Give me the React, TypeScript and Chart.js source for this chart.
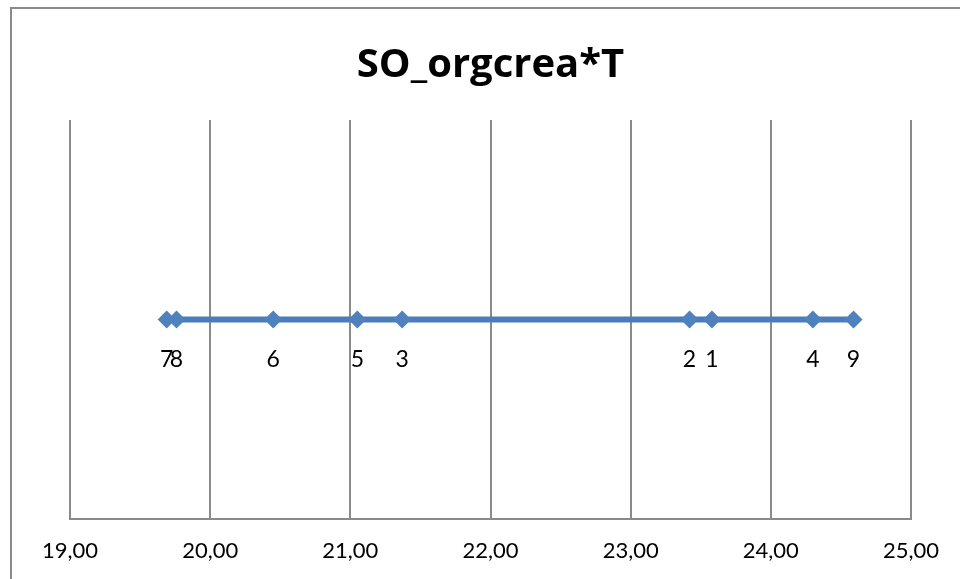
import React, { useEffect, useRef } from "react";
import { Chart, registerables } from "chart.js";

Chart.register(...registerables);

const chartTitle = "SO_orgcrea*T";
const pointLabels = ["1", "2", "3", "4", "5", "6", "7", "8", "9"];
const xValues = [23.58, 23.42, 21.37, 24.3, 21.05, 20.45, 19.69, 19.76, 24.59];
const yValues = [1, 1, 1, 1, 1, 1, 1, 1, 1];
const xMin = 19;
const xMax = 25;

const FONT = "Lato, 'Open Sans', sans-serif";
const TITLE_FONT = "'Open Sans', Lato, sans-serif";

const framePlugin = {
  id: "frame",
  beforeDraw(chart: any) {
    const ctx = chart.ctx;
    ctx.save();
    ctx.fillStyle = "#ffffff";
    ctx.fillRect(0, 0, chart.width, chart.height);
    ctx.strokeStyle = "#8a8a8a";
    ctx.lineWidth = 2;
    ctx.strokeRect(11, 8, chart.width + 20, chart.height + 20);
    ctx.restore();
  },
};

const labelPlugin = {
  id: "pointLabelText",
  afterDatasetsDraw(chart: any) {
    const ctx = chart.ctx;
    const meta = chart.getDatasetMeta(0);
    ctx.save();
    ctx.font = `23px ${FONT}`;
    ctx.fillStyle = "#000000";
    ctx.textAlign = "center";
    ctx.textBaseline = "middle";
    meta.data.forEach((el: any, i: number) => {
      ctx.fillText(pointLabels[i], el.x, el.y + 40);
    });
    ctx.restore();
  },
};

export default function App() {
  const ref = useRef<HTMLCanvasElement>(null);
  useEffect(() => {
    if (!ref.current) return;
    const data = xValues.map((x, i) => ({ x, y: yValues[i] }));
    const chart = new Chart(ref.current, {
      type: "line",
      data: {
        datasets: [
          {
            data,
            borderColor: "#4a7ebb",
            backgroundColor: "#4f81bd",
            borderWidth: 6,
            pointStyle: "rectRot",
            pointRadius: 9,
            pointBorderWidth: 0,
            pointBackgroundColor: "#4f81bd",
            tension: 0,
          },
        ],
      },
      options: {
        responsive: false,
        animation: false,
        layout: { padding: { top: 8, left: 70, right: 49, bottom: 0 } },
        plugins: {
          legend: { display: false },
          tooltip: { enabled: false },
          title: {
            display: true,
            text: chartTitle,
            color: "#000000",
            font: { family: TITLE_FONT, size: 40, weight: "bold", lineHeight: 1.2 },
            padding: { top: 34, bottom: 30 },
          },
        },
        scales: {
          x: {
            type: "linear",
            min: xMin,
            max: xMax,
            afterFit: (scale: any) => {
              scale.height = 60;
            },
            ticks: {
              stepSize: 1,
              color: "#000000",
              font: { family: FONT, size: 22 },
              padding: 19,
              callback: (v: any) => Number(v).toFixed(2).replace(".", ","),
            },
            grid: { color: "#8a8a8a", lineWidth: 2, drawTicks: false },
            border: { color: "#8a8a8a", width: 2 },
          },
          y: {
            display: false,
            min: 0,
            max: 2,
          },
        },
      },
      plugins: [framePlugin, labelPlugin],
    });
    return () => chart.destroy();
  }, []);
  return (
    <div style={{ position: "absolute", left: 0, top: 0, width: 960, height: 579 }}>
      <canvas ref={ref} width={960} height={579} style={{ display: "block" }} />
    </div>
  );
}
